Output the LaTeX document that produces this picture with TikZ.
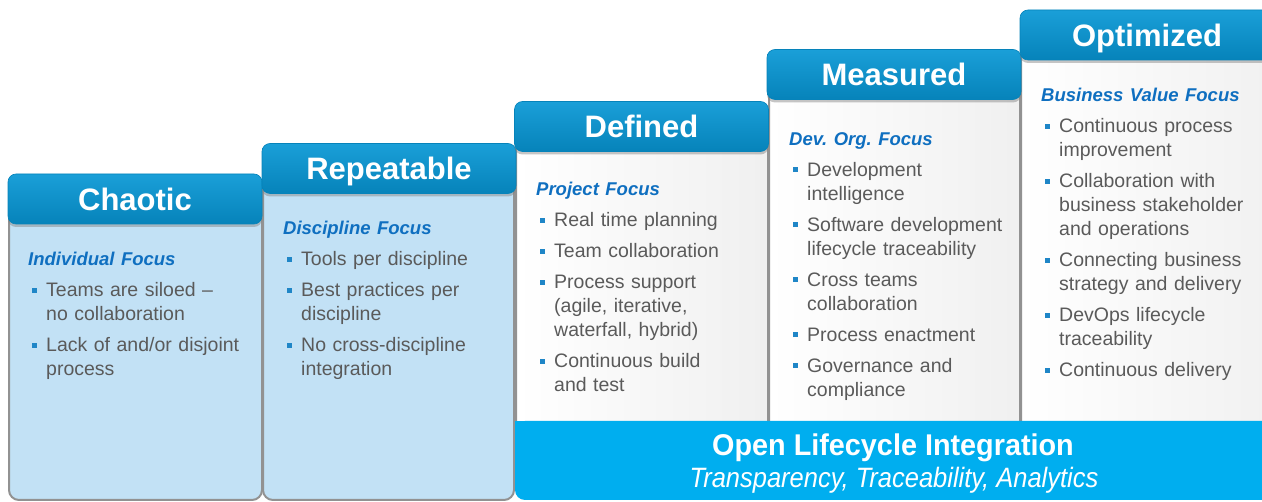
\documentclass[tikz,border=0pt]{standalone}
\usepackage{fontspec}
\setmainfont{Liberation Sans}
\newfontfamily\narrowsans[FakeStretch=0.91]{Liberation Sans}
\newfontfamily\widersans[FakeStretch=0.96]{Liberation Sans}
\usetikzlibrary{shadows}
\setlength{\parindent}{0pt}
\frenchspacing

\definecolor{headtop}{HTML}{1A9FD8}
\definecolor{headbot}{HTML}{0683BA}
\definecolor{paleblue}{HTML}{C2E1F5}
\definecolor{barblue}{HTML}{00AEEF}
\definecolor{focusblue}{HTML}{0F6FC0}
\definecolor{dotblue}{HTML}{1F86C7}
\definecolor{textgray}{HTML}{5A5A5A}
\definecolor{edgegray}{HTML}{929292}

\newcommand{\focus}[1]{{\fontsize{18.5}{24}\selectfont\color{focusblue}\bfseries\itshape #1}}
\newcommand{\itm}{\par\vspace{7pt}\noindent\hangindent=18pt\hangafter=1%
  \makebox[18pt][l]{\hspace{4pt}\textcolor{dotblue}{\rule[4pt]{5pt}{5pt}}}}

\tikzset{
  stagehead/.style={rounded corners=8pt, top color=headtop, bottom color=headbot,
    draw=headbot, line width=0.6pt, text=white, font=\fontsize{31}{36}\selectfont\bfseries,
    minimum width=254pt, minimum height=50pt, inner sep=0pt, text depth=0pt,
    drop shadow={shadow xshift=0pt, shadow yshift=-3pt, opacity=0.45}},
  palebody/.style={rounded corners=10pt, fill=paleblue, draw=edgegray, line width=2pt},
  whitebody/.style={rounded corners=10pt, left color=white, middle color=white,
    right color=gray!12, draw=edgegray, line width=2pt},
  focustext/.style={anchor=north west, inner sep=0pt, text width=#1, align=left,
    text=textgray, font=\fontsize{19.5}{24}\selectfont}
}

\begin{document}
\begin{tikzpicture}[x=1pt,y=-1pt]
  \clip (0,0) rectangle (1262,502);
  \fill[white] (0,0) rectangle (1262,502);

  % bodies of the five stages
  \draw[palebody] (9,210) rectangle (262,500);
  \draw[palebody] (263,180) rectangle (514,500);
  \draw[whitebody] (516,140) rectangle (768,440);
  \draw[whitebody] (769,88) rectangle (1020,440);
  \draw[whitebody] (1021,48) rectangle (1290,440);

  % integration bar
  \fill[barblue, rounded corners=10pt] (515,421) rectangle (1290,500);
  \fill[barblue] (515,421) rectangle (545,450);
  \node[text=white, font=\widersans\fontsize{30}{34}\selectfont\bfseries] (bartitle) at (893,448) {Open Lifecycle Integration};
  \node[text=white, font=\narrowsans\fontsize{28}{32}\selectfont\itshape] (barsub) at (894,480) {Transparency, Traceability, Analytics};

  % headers
  \node[stagehead] (chaotic) at (135,199) {Chaotic};
  \node[stagehead] (repeatable) at (389,168.5) {Repeatable};
  \node[stagehead] (defined) at (641.5,126.5) {Defined};
  \node[stagehead] (measured) at (894,74.5) {Measured};
  \node[stagehead] (optimized) at (1147,35) {Optimized};

  % focus texts
  \node[focustext=232pt] (chaoticlist) at (28,252) {\focus{Individual Focus}
    \itm Teams are siloed –\newline no collaboration
    \itm Lack of and/or disjoint\newline process\par};
  \node[focustext=228pt] (repeatablelist) at (283,221) {\focus{Discipline Focus}
    \itm Tools per discipline
    \itm Best practices per\newline discipline
    \itm No cross-discipline\newline integration\par};
  \node[focustext=228pt] (definedlist) at (536,182) {\focus{Project Focus}
    \itm Real time planning
    \itm Team collaboration
    \itm Process support\newline (agile, iterative,\newline waterfall, hybrid)
    \itm Continuous build\newline and test\par};
  \node[focustext=228pt] (measuredlist) at (789,132) {\focus{Dev. Org. Focus}
    \itm Development\newline intelligence
    \itm Software development\newline lifecycle traceability
    \itm Cross teams\newline collaboration
    \itm Process enactment
    \itm Governance and\newline compliance\par};
  \node[focustext=225pt] (optimizedlist) at (1041,88) {\focus{Business Value Focus}
    \itm Continuous process\newline improvement
    \itm Collaboration with\newline business stakeholder\newline and operations
    \itm Connecting business\newline strategy and delivery
    \itm DevOps lifecycle\newline traceability
    \itm Continuous delivery\par};
\end{tikzpicture}
\end{document}
